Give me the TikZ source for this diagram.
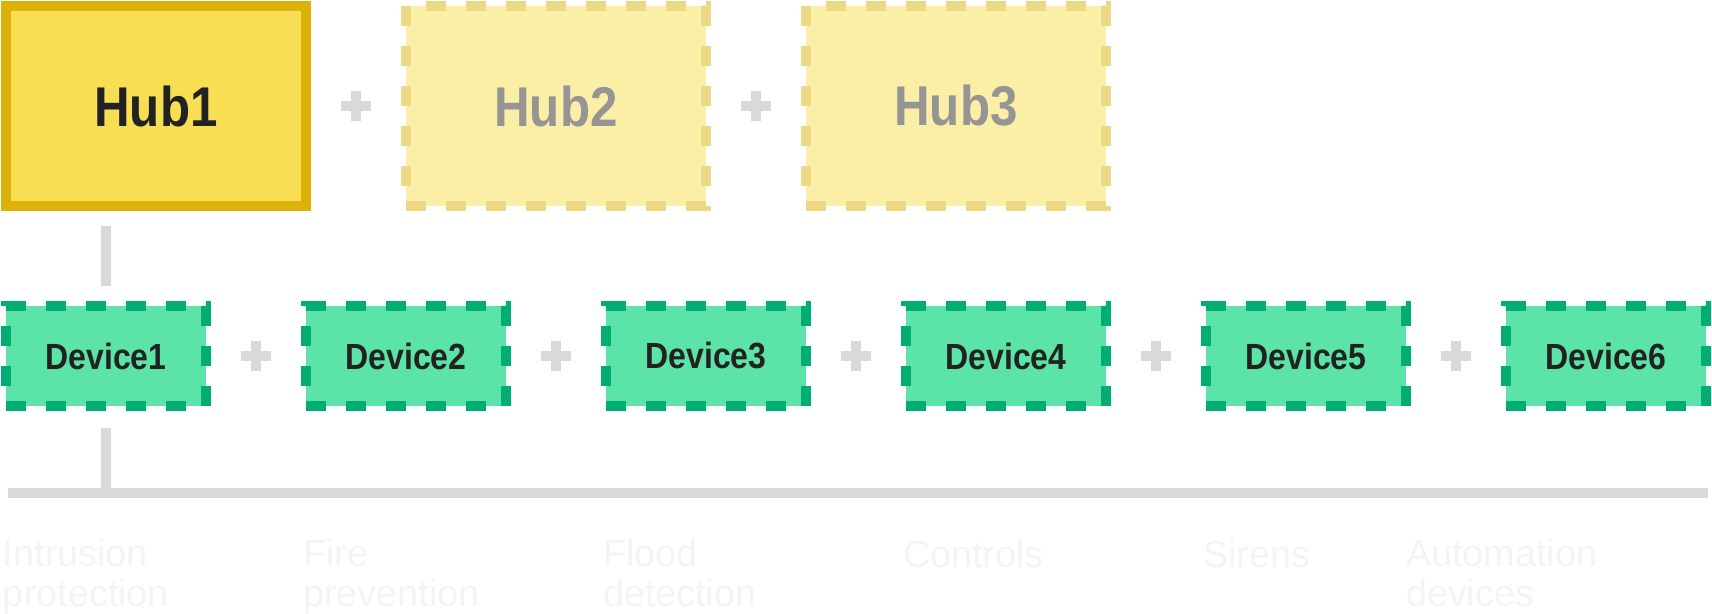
\documentclass[tikz,border=0pt]{standalone}
\usepackage{fontspec}
\setmainfont{Liberation Sans}
\newfontfamily\boxfont[FakeStretch=0.88]{Liberation Sans}
\usepackage{xcolor}
\usepackage{tikz}
\usetikzlibrary{positioning,calc}

\definecolor{hubfill}{HTML}{F7DE52}
\definecolor{hubline}{HTML}{DBB10A}
\definecolor{ghostfill}{HTML}{FBEEA6}
\definecolor{ghostline}{HTML}{EDD886}
\definecolor{ghosttext}{HTML}{959595}
\definecolor{devfill}{HTML}{5CE4A8}
\definecolor{devline}{HTML}{00AE74}
\definecolor{darktext}{HTML}{222222}
\definecolor{linkgray}{HTML}{D9D9D9}
\definecolor{labelgray}{HTML}{F4F4F4}

\begin{document}
\begin{tikzpicture}[
    x=0.5pt, y=-0.5pt,
    node distance=50pt,
    every node/.style={inner sep=0pt, outer sep=0pt},
    hub/.style={draw=hubline, fill=hubfill, line width=5pt,
        minimum width=150pt, minimum height=100pt,
        font=\boxfont\bfseries\fontsize{28}{30}\selectfont, text=darktext},
    ghosthub/.style={hub, draw=ghostline, fill=ghostfill, text=ghosttext,
        dash pattern=on 10pt off 10pt},
    device/.style={draw=devline, fill=devfill, line width=5pt,
        dash pattern=on 10pt off 10pt,
        minimum width=100pt, minimum height=50pt,
        font=\boxfont\bfseries\fontsize{18.2}{20}\selectfont, text=darktext},
    link/.style={draw=linkgray, line width=5pt},
    plus/.style={draw=linkgray, line width=5pt},
    area/.style={anchor=base west, align=left, text=labelgray,
        font=\fontsize{18.9}{20}\selectfont}
]
\useasboundingbox (0,0) rectangle (1712,614);

% Hubs
\node[hub] (hub1) at (156,106) {Hub1};
\node[ghosthub, right=of hub1] (hub2) {Hub2};
\node[ghosthub, right=of hub2] (hub3) {Hub3};

% Devices
\node[device] (dev1) at (106,356) {Device1};
\node[device, right=of dev1] (dev2) {Device2};
\node[device, right=of dev2] (dev3) {Device3};
\node[device, right=of dev3] (dev4) {Device4};
\node[device, right=of dev4] (dev5) {Device5};
\node[device, right=of dev5] (dev6) {Device6};

% plus signs
\foreach \a/\b in {hub1/hub2,hub2/hub3,dev1/dev2,dev2/dev3,dev3/dev4,dev4/dev5,dev5/dev6}
  \draw[plus] ($(\a.east)!0.5!(\b.west)$) +(-15,0) -- +(15,0) +(0,-15) -- +(0,15);

% links
\coordinate (barL) at (8,493);
\coordinate (barR) at (1708,493);
\draw[link] (barL) -- (barR);
\draw[link, shorten <=10pt, shorten >=10pt] (dev1.north |- hub1.south) -- (dev1.north);
\draw[link, shorten <=11pt] (dev1.south) -- (dev1.south |- barL);

% areas (two-line ones sit on their last line)
\node[area] (lab1) at (3,606) {Intrusion\\protection};
\node[area] (lab2) at (303,606) {Fire\\prevention};
\node[area] (lab3) at (603,606) {Flood\\detection};
\node[area] (lab4) at (903,567) {Controls};
\node[area] (lab5) at (1203,567) {Sirens};
\node[area] (lab6) at (1406,606) {Automation\\devices};

\end{tikzpicture}
\end{document}
